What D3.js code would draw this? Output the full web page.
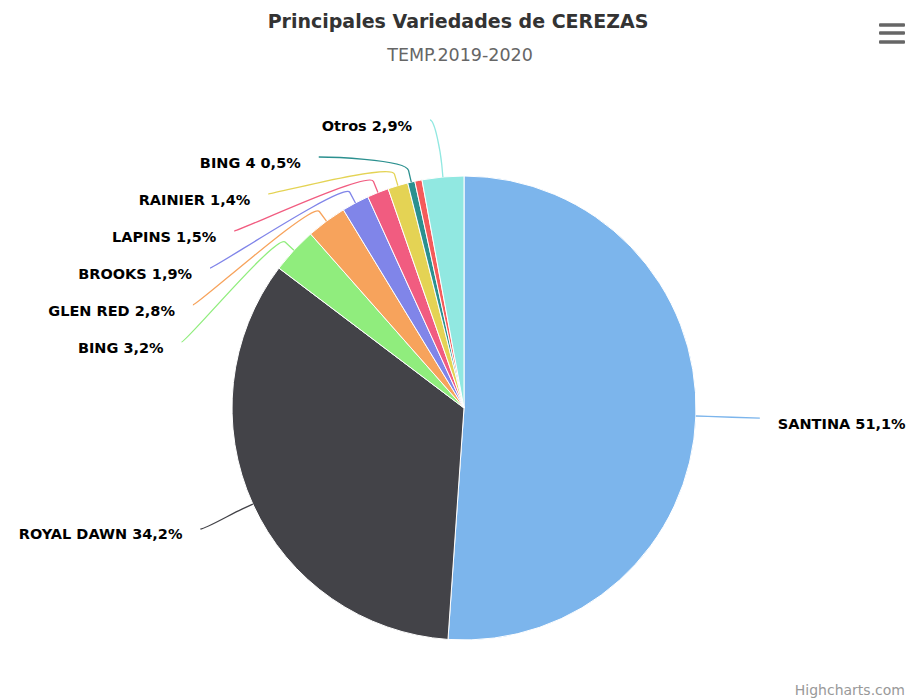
<!DOCTYPE html>
<html lang="es">
<head>
<meta charset="UTF-8">
<title>Principales Variedades de CEREZAS</title>
<script src="https://cdnjs.cloudflare.com/ajax/libs/d3/7.8.5/d3.min.js"></script>
<style>
    body { margin: 0; background: #fff; }
    svg { display: block; font-family: "DejaVu Sans", Verdana, sans-serif; }
    .label { font-size: 14.5px; font-weight: bold; fill: #000; }
</style>
</head>
<body>
<div id="chart"></div>
<script>

// data (percent of the season); the unnamed red slice has no visible label
var varieties = ["SANTINA", "ROYAL DAWN", "BING", "GLEN RED", "BROOKS", "LAPINS", "RAINIER", "BING 4", "", "Otros"];
var shares    = [51.1, 34.2, 3.2, 2.8, 1.9, 1.5, 1.4, 0.5, 0.5, 2.9];
var colors    = ["#7cb5ec", "#434348", "#90ed7d", "#f7a35c", "#8085e9",
                 "#f15c80", "#e4d354", "#2b908f", "#f45b5b", "#91e8e1"];

var w = 914;
var h = 700;
var cx = 464, cy = 408;
var radius = 232;
var labelR = 292;               // natural label height
var labelRx = { left: 290, right: 296 };
var breakR = radius + 12;
var labelGap = 37;
var labelTop = -288;            // top bound for the stacked labels
var textPad = 18;

var svg = d3.select("#chart")
    .append("svg")
    .attr("width", w)
    .attr("height", h);

svg.append("text")
    .attr("x", 458).attr("y", 28)
    .attr("text-anchor", "middle")
    .style("font-size", "19px")
    .style("font-weight", "bold")
    .style("fill", "#333")
    .text("Principales Variedades de CEREZAS");

svg.append("text")
    .attr("x", 460).attr("y", 61)
    .attr("text-anchor", "middle")
    .style("font-size", "17.5px")
    .style("fill", "#666")
    .text("TEMP.2019-2020");

// menu icon
svg.append("g").selectAll("rect")
    .data([25, 33, 42])
    .enter().append("rect")
    .attr("x", 879).attr("y", function(d){ return d - 1.7; })
    .attr("width", 26).attr("height", 3.5)
    .attr("rx", 1)
    .attr("fill", "#666");

svg.append("text")
    .attr("x", 905).attr("y", 695)
    .attr("text-anchor", "end")
    .style("font-size", "14px")
    .style("fill", "#999")
    .text("Highcharts.com");

var data = varieties.map(function(n, i){
    return { name: n, value: shares[i], color: colors[i] };
});

var pie = d3.pie()
    .sort(null)
    .value(function(d){ return d.value; });

var arcs = pie(data);

var arc = d3.arc()
    .innerRadius(0)
    .outerRadius(radius);

var chartLayer = svg.append("g")
    .attr("transform", "translate(" + cx + "," + cy + ")");

chartLayer.selectAll("path.slice")
    .data(arcs)
    .enter()
    .append("path")
    .attr("class", "slice")
    .attr("d", arc)
    .attr("fill", function(d){ return d.data.color; })
    .attr("stroke", "#fff")
    .attr("stroke-width", 1)
    .attr("stroke-linejoin", "round");

/*
* Labels: place on a circle, stack crowded ones downward
* */
function polar(r, a) {
    return [Math.sin(a) * r, -Math.cos(a) * r];
}

var labels = arcs.filter(function(d){ return d.data.name !== ""; }).map(function(d){
    var mid = (d.startAngle + d.endAngle) / 2;
    var nat = polar(labelR, mid);
    return {
        arc: d,
        mid: mid,
        left: mid > Math.PI,
        y: nat[1]
    };
});

// left side, top to bottom
var leftLabels = labels.filter(function(l){ return l.left; })
    .sort(function(a, b){ return a.y - b.y; });
var prevY = labelTop - labelGap;
leftLabels.forEach(function(l){
    l.y = Math.max(l.y, prevY + labelGap);
    prevY = l.y;
});

labels.forEach(function(l){
    var rx = l.left ? labelRx.left : labelRx.right;
    var dx = Math.sqrt(Math.max(0, rx * rx - l.y * l.y));
    l.x = l.left ? -dx : dx;
    var touch = polar(radius, l.mid);
    var brk = polar(breakR, l.mid);
    l.path = "M" + l.x + "," + l.y +
        "C" + (l.x + (l.left ? 5 : -5)) + "," + l.y + " " +
        (2 * brk[0] - touch[0]) + "," + (2 * brk[1] - touch[1]) + " " +
        brk[0] + "," + brk[1] +
        "L" + touch[0] + "," + touch[1];
});

var labelLayer = chartLayer.append("g");

labelLayer.selectAll("path")
    .data(labels)
    .enter()
    .append("path")
    .attr("d", function(d){ return d.path; })
    .attr("fill", "none")
    .attr("stroke", function(d){ return d.arc.data.color; })
    .attr("stroke-width", 1.3);

labelLayer.selectAll("text")
    .data(labels)
    .enter()
    .append("text")
    .attr("class", "label")
    .attr("x", function(d){ return d.left ? d.x - textPad : d.x + textPad; })
    .attr("y", function(d){ return d.y + 10.5; })
    .attr("text-anchor", function(d){ return d.left ? "end" : "start"; })
    .text(function(d){
        return d.arc.data.name + " " + d3.format(".1f")(d.arc.data.value).replace(".", ",") + "%";
    });

</script>
</body>
</html>
